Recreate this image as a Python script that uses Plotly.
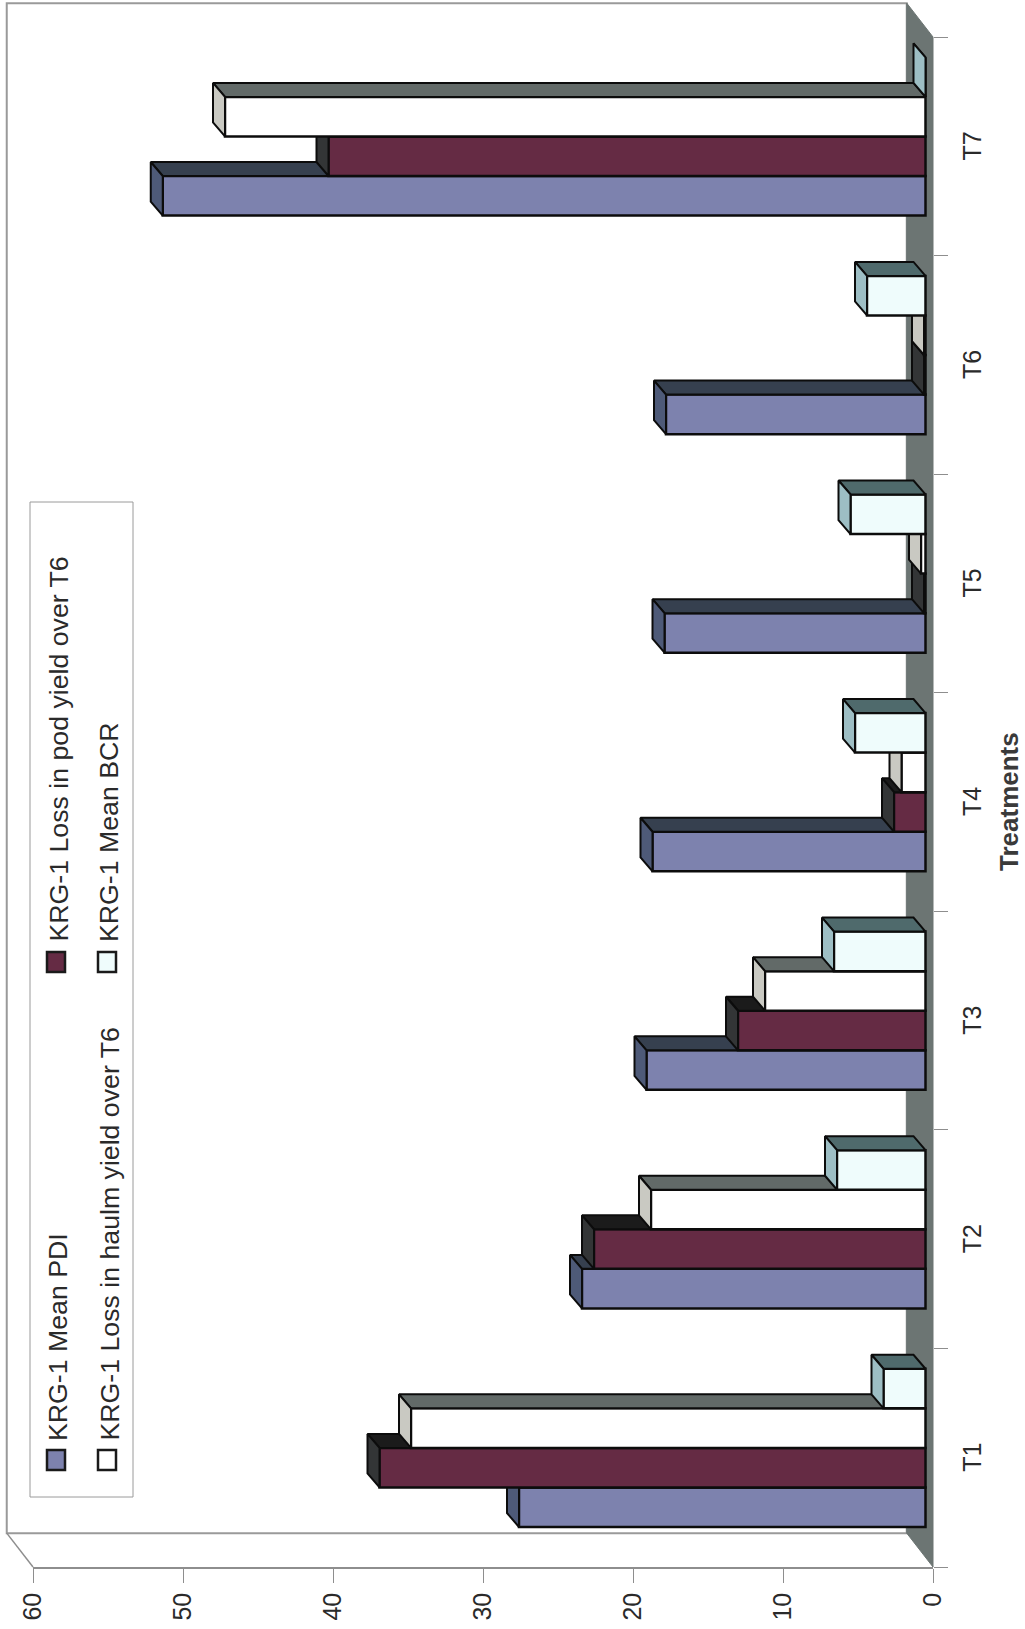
import plotly.graph_objects as go

# Treatments and the four series, read per treatment T1..T7
categories = ["T1", "T2", "T3", "T4", "T5", "T6", "T7"]
mean_pdi = [27.1, 22.9, 18.6, 18.2, 17.4, 17.3, 50.85]
loss_pod = [36.4, 22.1, 12.5, 2.1, 0.1, 0.1, 39.8]
loss_haulm = [34.3, 18.3, 10.7, 1.6, 0.3, 0.1, 46.7]
mean_bcr = [2.8, 5.9, 6.1, 4.7, 5.0, 3.9, 0.0]

series_names = [
    "KRG-1 Mean PDI",
    "KRG-1 Loss in pod yield over T6",
    "KRG-1 Loss in haulm yield over T6",
    "KRG-1 Mean BCR",
]
series_values = [mean_pdi, loss_pod, loss_haulm, mean_bcr]
front_colors = ["#7d82ae", "#652b44", "#ffffff", "#effcfc"]
top_colors = ["#36404f", "#1b1b1b", "#626a68", "#4f6a6c"]
side_colors = ["#4e5a78", "#333536", "#c9c9c2", "#9dbec4"]

W, H = 1025, 1629
L, R, T, B = 33, 933, 37, 1567  # plot area in pixels

FONT = "Liberation Sans"
TEXT = "#2a2a2a"
LINE = "#8e8e8e"
EDGE = "#0c0c0c"

# Depth of the chart box and of each bar, in axis units
BOX_DX, BOX_DY = 1.75, 0.155
BAR_DX, BAR_DY = 0.8, 0.064
BAR_BASE = 0.5     # bars stand slightly behind the front edge of the floor
BAR_H = 0.181
FIRST_BAR = 0.183

XMAX = 60
N = len(categories)


def polygons(polys):
    xs, ys = [], []
    for poly in polys:
        xs += [p[0] for p in poly] + [poly[0][0], None]
        ys += [p[1] for p in poly] + [poly[0][1], None]
    return xs, ys


def paper_x(px):
    return (px - L) / (R - L)


def paper_y(py):
    return (B - py) / (B - T)


def box_x(v):
    return (XMAX - v) / XMAX


def box_y(c):
    return c / N


def box_path(points):
    coords = [f"{box_x(v):.5f},{box_y(c):.5f}" for v, c in points]
    return "M" + " L".join(coords) + " Z"


fig = go.Figure()
# The primary axes only carry the ticks and labels; an empty trace keeps them alive
fig.add_trace(go.Scatter(x=[0], y=[0], mode="none", hoverinfo="skip", showlegend=False))

# Every series has its own overlaid axes so that later series paint over the
# depth faces of the earlier ones.
for s, (name, values) in enumerate(zip(series_names, series_values)):
    n = s + 2
    xa, ya = f"x{n}", f"y{n}"
    y0s = [i + FIRST_BAR + s * BAR_H for i in range(N)]
    tops, sides = [], []
    for v, y0 in zip(values, y0s):
        y1 = y0 + BAR_H
        left = BAR_BASE + v
        tops.append([(BAR_BASE, y1), (left, y1),
                     (left + BAR_DX, y1 + BAR_DY), (BAR_BASE + BAR_DX, y1 + BAR_DY)])
        sides.append([(left, y0), (left, y1),
                      (left + BAR_DX, y1 + BAR_DY), (left + BAR_DX, y0 + BAR_DY)])
    fig.add_trace(go.Bar(
        x=values, y=[y + BAR_H / 2 for y in y0s], base=BAR_BASE, width=BAR_H,
        orientation="h", name=name,
        marker=dict(color=front_colors[s], line=dict(color=EDGE, width=2.5)),
        xaxis=xa, yaxis=ya, showlegend=False))
    for polys, color in ((tops, top_colors[s]), (sides, side_colors[s])):
        px, py = polygons(polys)
        fig.add_trace(go.Scatter(
            x=px, y=py, mode="lines", fill="toself", fillcolor=color,
            line=dict(color=EDGE, width=2),
            xaxis=xa, yaxis=ya, cliponaxis=False,
            hoverinfo="skip", showlegend=False))

layout_axes = {}
for s in range(len(series_names)):
    n = s + 2
    layout_axes[f"xaxis{n}"] = dict(range=[XMAX, 0], overlaying="x", visible=False)
    layout_axes[f"yaxis{n}"] = dict(range=[0, N], overlaying="y", visible=False)

# Box behind the bars: back wall, the slanted left edge of the floor, and the floor strip
shapes = [
    dict(type="path", xref="paper", yref="paper", layer="below",
         path=box_path([(BOX_DX, BOX_DY), (XMAX + BOX_DX, BOX_DY),
                        (XMAX + BOX_DX, N + BOX_DY), (BOX_DX, N + BOX_DY)]),
         fillcolor="#ffffff", line=dict(color="#9a9a9a", width=2)),
    dict(type="line", xref="paper", yref="paper", layer="below",
         x0=box_x(XMAX), y0=box_y(0), x1=box_x(XMAX + BOX_DX), y1=box_y(BOX_DY),
         line=dict(color=LINE, width=1.5)),
    dict(type="path", xref="paper", yref="paper", layer="below",
         path=box_path([(0, 0), (BOX_DX, BOX_DY), (BOX_DX, N + BOX_DY), (0, N)]),
         fillcolor="#6c7573", line=dict(color="#6c7573", width=1)),
]

# Hand-built legend: the whole chart reads sideways, so its text is rotated too
legend_entries = [
    (series_names[0], 58, 56, 1460, 1443),
    (series_names[2], 109, 107, 1460, 1443),
    (series_names[1], 58, 56, 962, 944),
    (series_names[3], 109, 107, 962, 944),
]
legend_swatch = {series_names[i]: front_colors[i] for i in range(4)}

annotations = []
shapes.append(dict(type="rect", xref="paper", yref="paper",
                   x0=paper_x(30), x1=paper_x(133), y0=paper_y(1497), y1=paper_y(502),
                   line=dict(color="#9a9a9a", width=1), fillcolor="#ffffff", layer="above"))
for label, tx, cx, cy, start in legend_entries:
    shapes.append(dict(type="rect", xref="paper", yref="paper",
                       x0=paper_x(cx - 9), x1=paper_x(cx + 9),
                       y0=paper_y(cy + 10), y1=paper_y(cy - 10),
                       fillcolor=legend_swatch[label],
                       line=dict(color="#1a1a1a", width=2.5), layer="above"))
    annotations.append(dict(text=label, xref="paper", yref="paper",
                            x=paper_x(tx), y=paper_y(start), yanchor="bottom",
                            xanchor="center", showarrow=False, textangle=-90,
                            font=dict(family=FONT, size=26.7, color=TEXT)))
annotations.append(dict(text="<b>Treatments</b>", xref="paper", yref="paper",
                        x=paper_x(1009), y=0.5, xanchor="center", yanchor="middle",
                        showarrow=False, textangle=-90,
                        font=dict(family=FONT, size=26, color="#3a3a3a")))

fig.update_layout(
    width=W, height=H,
    margin=dict(l=L, r=W - R, t=T, b=H - B, autoexpand=False),
    paper_bgcolor="#ffffff", plot_bgcolor="rgba(0,0,0,0)",
    barmode="overlay", showlegend=False,
    font=dict(family=FONT, color=TEXT),
    xaxis=dict(range=[XMAX, 0], tickvals=list(range(0, 70, 10)),
               showgrid=False, zeroline=False, showline=True,
               linecolor=LINE, linewidth=1.5, ticks="outside", ticklen=14,
               tickcolor=LINE, tickwidth=1, tickangle=-90,
               tickfont=dict(family=FONT, size=25, color=TEXT)),
    yaxis=dict(range=[0, N], side="right", showgrid=False, zeroline=False,
               showline=False, tickvals=[i + 0.485 for i in range(N)],
               ticktext=categories, ticks="", tickangle=-90, ticklabelstandoff=22,
               tickfont=dict(family=FONT, size=25, color=TEXT),
               minor=dict(tickvals=list(range(N + 1)), ticks="outside",
                          ticklen=14, tickcolor=LINE, tickwidth=1)),
    annotations=annotations, shapes=shapes,
    **layout_axes,
)

fig.write_html("out.html")
